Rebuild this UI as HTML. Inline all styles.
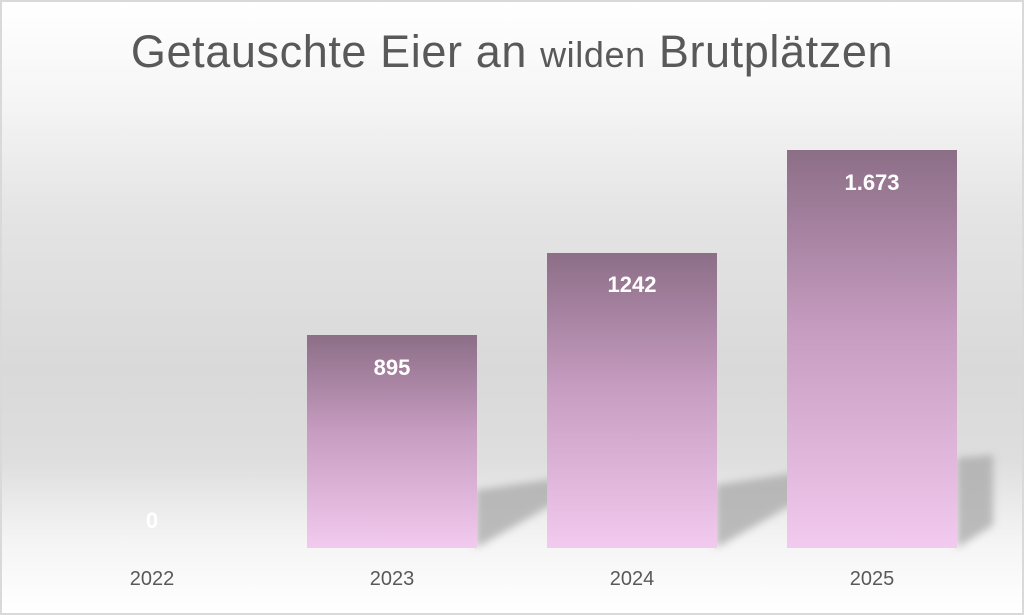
<!DOCTYPE html>
<html><head><meta charset="utf-8"><style>
html,body{margin:0;padding:0;}
body{width:1024px;height:615px;overflow:hidden;font-family:"Liberation Sans",sans-serif;}
#c{position:absolute;left:0;top:0;width:1020px;height:611px;border:2px solid #d9d9d9;
background:linear-gradient(to bottom,#ffffff 0%,#f6f6f6 15%,#e4e4e4 35%,#d9d9d9 60%,#dedede 75%,#f4f4f4 88%,#ffffff 100%);}
.t{position:absolute;left:0;width:1024px;top:26px;text-align:center;color:#595959;font-size:45px;letter-spacing:0.6px;white-space:nowrap;}
.t small{font-size:36px;}
.bar{position:absolute;width:170px;background:linear-gradient(to bottom,#8c6e87,#c69cc0 45%,#f3caef);}
.v{position:absolute;width:170px;text-align:center;color:#fff;font-weight:bold;font-size:22px;}
.x{position:absolute;width:170px;text-align:center;color:#595959;font-size:20px;top:568px;}
</style></head><body>
<div id="c"></div>
<div class="t">Getauschte Eier an <small>wilden</small> Brutplätzen</div>
<svg width="1024" height="615" style="position:absolute;left:0;top:0">
<defs><filter id="b" x="-50%" y="-50%" width="200%" height="200%"><feGaussianBlur stdDeviation="4"/></filter></defs>
<g fill="#a8a8a8" opacity="0.75" filter="url(#b)">
<polygon points="476,490 560,478 560,500 476,548"/>
<polygon points="716,485 800,472 800,500 716,548"/>
<polygon points="957,458 993,455 993,525 957,548"/>
</g></svg>
<div class="bar" style="left:307px;top:335px;height:213px"></div>
<div class="bar" style="left:547px;top:253px;height:295px"></div>
<div class="bar" style="left:787px;top:150px;height:398px"></div>
<div class="v" style="left:67px;top:508px">0</div>
<div class="v" style="left:307px;top:355px">895</div>
<div class="v" style="left:547px;top:272px">1242</div>
<div class="v" style="left:787px;top:170px">1.673</div>
<div class="x" style="left:67px">2022</div>
<div class="x" style="left:307px">2023</div>
<div class="x" style="left:547px">2024</div>
<div class="x" style="left:787px">2025</div>
</body></html>
